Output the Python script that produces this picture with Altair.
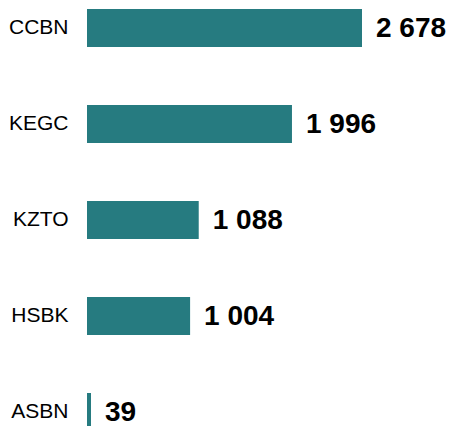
import altair as alt
import pandas as pd

tickers = ["CCBN", "KEGC", "KZTO", "HSBK", "ASBN"]
values = [2678, 1996, 1088, 1004, 39]
labels = ["2 678", "1 996", "1 088", "1 004", "39"]

df = pd.DataFrame({"ticker": tickers, "value": values, "label": labels})

FONT = "Arial, Liberation Sans, sans-serif"

y_enc = alt.Y(
    "ticker:N",
    sort=tickers,
    title=None,
    scale=alt.Scale(paddingInner=0.604, paddingOuter=0.0104, range=[0, 424]),
    axis=alt.Axis(domain=False, ticks=False, labelPadding=19, labelFontSize=21,
                  labelFont=FONT, labelColor="#000000", grid=False),
)
x_enc = alt.X("value:Q", title=None, scale=alt.Scale(domain=[0, 3496], nice=False),
              axis=None)

base = alt.Chart(df).encode(y=y_enc, x=x_enc)

bars = base.mark_bar(color="#267b80", cornerRadius=0)
text = base.mark_text(align="left", baseline="middle", dx=14, dy=1, font=FONT,
                      fontSize=28, fontWeight="bold", color="#000000").encode(text="label:N")

chart = (
    alt.layer(bars, text)
    .properties(width=359, height=418,
                autosize=alt.AutoSizeParams(type="none"),
                padding={"left": 79, "top": 0, "right": 0, "bottom": 0})
    .configure_view(stroke=None)
)

chart.save("out.html", embed_options={"renderer": "svg", "actions": False})
